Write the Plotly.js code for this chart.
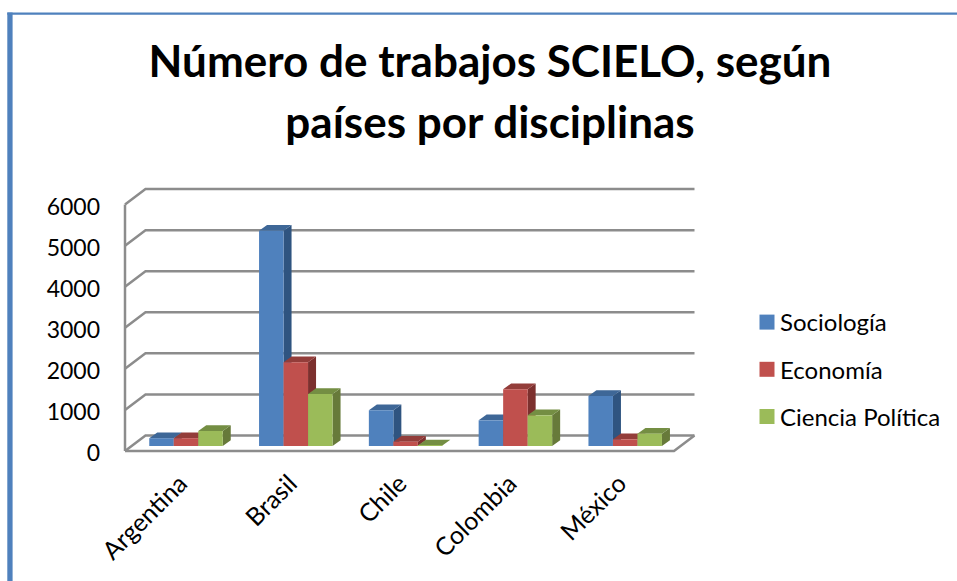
<!DOCTYPE html>
<html>
<head>
<meta charset="utf-8">
<script src="https://cdn.plot.ly/plotly-3.0.1.min.js"></script>
<style>html,body{margin:0;padding:0;background:#fff}#chart{width:957px;height:581px}</style>
</head>
<body>
<div id="chart"></div>
<script>
const categories = ["Argentina", "Brasil", "Chile", "Colombia", "México"];
const sociologia = [190, 5240, 870, 625, 1217];
const economia = [190, 2040, 105, 1380, 163];
const cienciaPolitica = [365, 1266, 10, 747, 300];
const seriesNames = ["Sociología", "Economía", "Ciencia Política"];
const seriesValues = [sociologia, economia, cienciaPolitica];
const frontColors = ["#4F81BD", "#C0504D", "#9BBB59"];
const topColors = ["#3E6797", "#933D3A", "#748E43"];
const sideColors = ["#2F5480", "#7C302E", "#677A3A"];
const yTicks = [0, 1000, 2000, 3000, 4000, 5000, 6000];

const W = 957, H = 581, F = "Lato, Carlito, sans-serif";
const pxX = 109.8, pxY = 0.04107;            // pixels per category, pixels per value
const plotL = 101, plotR = 705, plotT = 180, plotB = 460;
const cat0 = 186, labelZero = 453, wallZero = 451, barZero = 446;
const xRange = [(plotL - cat0) / pxX, (plotR - cat0) / pxX];
const yRange = [(labelZero - plotB) / pxY, (labelZero - plotT) / pxY];
const y2Range = [(barZero - plotB) / pxY, (barZero - plotT) / pxY];
const wallLift = (labelZero - wallZero) / pxY;
const tickShift = -6 / pxX;

const barW = 24.5 / pxX, dX = 8 / pxX, dY = 5.8 / pxY;
const wallDX = 20.5 / pxX, wallDY = 15.5 / pxY;
const frontL = (125 - cat0) / pxX, frontR = frontL + categories.length;

// wireframe of the walls and floor
const gx = [], gy = [];
yTicks.forEach(v => {
  gx.push(frontL, frontL + wallDX, frontR + wallDX, null);
  gy.push(v + wallLift, v + wallLift + wallDY, v + wallLift + wallDY, null);
});
gx.push(frontL, frontL, null, frontL, frontR, frontR + wallDX);
gy.push(wallLift, yTicks[yTicks.length - 1] + wallLift, null, wallLift, wallLift, wallLift + wallDY);

const traces = [{
  x: gx, y: gy, type: "scatter", mode: "lines", xaxis: "x", yaxis: "y",
  line: {color: "#8C8C8C", width: 2.5}, hoverinfo: "skip", showlegend: false
}];

seriesNames.forEach((name, s) => {
  const vals = seriesValues[s];
  const sx = [], sy = [], tx = [], ty = [];
  vals.forEach((v, i) => {
    const x0 = i - 1.5 * barW + s * barW, x1 = x0 + barW;
    sx.push(x1, x1 + dX, x1 + dX, x1, x1, null);
    sy.push(0, dY, v + dY, v, 0, null);
    tx.push(x0, x0 + dX, x1 + dX, x1, x0, null);
    ty.push(v, v + dY, v + dY, v, v, null);
  });
  const face = (x, y, color) => ({
    x, y, type: "scatter", mode: "lines", fill: "toself", fillcolor: color,
    line: {width: 0, color}, xaxis: "x", yaxis: "y2", hoverinfo: "skip",
    showlegend: false, zorder: 2 * s + 1
  });
  traces.push(face(sx, sy, sideColors[s]), face(tx, ty, topColors[s]));
  traces.push({
    type: "bar", name, x: categories.map((c, i) => i), y: vals,
    width: barW, offset: -1.5 * barW + s * barW,
    marker: {color: frontColors[s], line: {width: 0}},
    xaxis: "x", yaxis: "y2", showlegend: false, zorder: 2 * s + 2
  });
  traces.push({
    type: "scatter", mode: "markers", name, x: [null], y: [null],
    marker: {symbol: "square", size: 15, color: frontColors[s], line: {width: 0}},
    legendgroup: name, showlegend: true, xaxis: "x", yaxis: "y2", hoverinfo: "skip"
  });
});

const px = v => v / W, py = v => 1 - v / H;
const titleLine = t => '<span style="font-size:44px">' + t + '</span>';
const layout = {
  width: W, height: H, autosize: false,
  margin: {l: 0, r: 0, t: 0, b: 0, pad: 0},
  paper_bgcolor: "#fff", plot_bgcolor: "rgba(0,0,0,0)",
  barmode: "overlay",
  title: {
    text: titleLine("Número de trabajos SCIELO, según") + "<br>" + titleLine("países por disciplinas"),
    font: {family: F, size: 47, color: "#000", weight: 700},
    x: px(490), xanchor: "center", xref: "paper", y: py(77), yanchor: "top", yref: "paper"
  },
  xaxis: {
    domain: [px(plotL), px(plotR)], range: xRange, anchor: "y",
    tickvals: categories.map((c, i) => i + tickShift), ticktext: categories, tickangle: -45,
    showgrid: false, zeroline: false, showline: false, ticks: "",
    ticklabelstandoff: 3,
    tickfont: {family: F, size: 25, color: "#000"}
  },
  yaxis: {
    domain: [py(plotB), py(plotT)], range: yRange, anchor: "x",
    tickvals: yTicks, showgrid: false, zeroline: false, showline: false, ticks: "",
    tickfont: {family: F, size: 23, color: "#000"}
  },
  yaxis2: {
    domain: [py(plotB), py(plotT)], range: y2Range, overlaying: "y", anchor: "x",
    visible: false, showgrid: false, zeroline: false
  },
  legend: {
    x: px(740), xanchor: "left", y: py(300), yanchor: "top",
    font: {family: F, size: 24, color: "#000"},
    tracegroupgap: 13, bgcolor: "rgba(0,0,0,0)", borderwidth: 0
  },
  shapes: [
    {type: "rect", xref: "paper", yref: "paper", x0: px(7.3), x1: px(957), y0: py(12.5), y1: py(14.8),
     fillcolor: "#4F81BD", line: {width: 0}},
    {type: "rect", xref: "paper", yref: "paper", x0: px(7.3), x1: px(12.6), y0: py(12.5), y1: py(581),
     fillcolor: "#4F81BD", line: {width: 0}}
  ]
};
Plotly.newPlot("chart", traces, layout, {displayModeBar: false, responsive: false}).then(() => {
  document.querySelectorAll(".legend .legendpoints").forEach(g => g.setAttribute("transform", "translate(7,0)"));
});
</script>
</body>
</html>
